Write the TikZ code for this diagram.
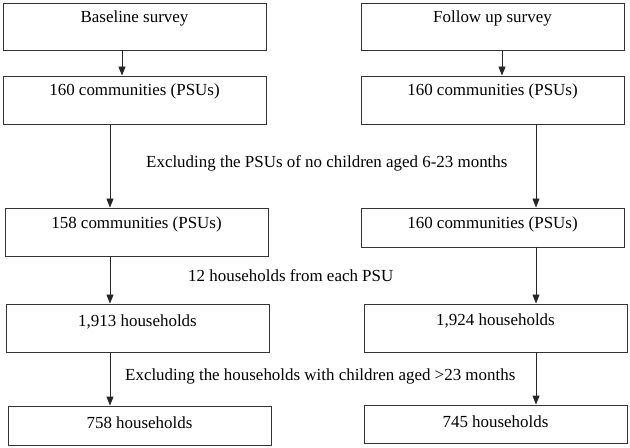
\documentclass[tikz,border=0pt]{standalone}
\usepackage{fontspec}
\setmainfont{Liberation Serif}
\usetikzlibrary{arrows.meta}
\begin{document}
\begin{tikzpicture}[x=1bp,y=-1bp,
  box/.style={draw=black!80,line width=0.9bp,rectangle,inner sep=0pt},
  txt/.style={inner sep=0pt,font=\fontsize{17}{20}\selectfont},
  arr/.style={draw=black!85,line width=0.9bp,-{Triangle[length=9bp,width=7bp]}}]
\useasboundingbox (0,0) rectangle (630,448);
% left column
\node[box,minimum width=263bp,minimum height=47bp] (L1) at (134.5,26.5) {};
\node[box,minimum width=263bp,minimum height=48bp] (L2) at (134.5,100) {};
\node[box,minimum width=263bp,minimum height=48bp] (L3) at (136.5,232) {};
\node[box,minimum width=263bp,minimum height=48bp] (L4) at (137.5,328) {};
\node[box,minimum width=263bp,minimum height=39bp] (L5) at (139.5,425.5) {};
% right column
\node[box,minimum width=263bp,minimum height=47bp] (R1) at (492.5,26.5) {};
\node[box,minimum width=263bp,minimum height=48bp] (R2) at (492.5,100) {};
\node[box,minimum width=263bp,minimum height=39bp] (R3) at (492.5,227.5) {};
\node[box,minimum width=263bp,minimum height=48bp] (R4) at (495.5,328) {};
\node[box,minimum width=263bp,minimum height=38bp] (R5) at (495.5,424) {};
% box texts
\node[txt] (L1t) at ([yshift=-16bp]L1.north) {Baseline survey};
\node[txt] (L2t) at ([yshift=-16bp]L2.north) {160 communities (PSUs)};
\node[txt] (L3t) at ([yshift=-17bp]L3.north) {158 communities (PSUs)};
\node[txt] (L4t) at ([yshift=-18bp]L4.north) {1,913 households};
\node[txt] (L5t) at ([yshift=-17bp]L5.north) {758 households};
\node[txt] (R1t) at ([yshift=-16bp]R1.north) {Follow up survey};
\node[txt] (R2t) at ([yshift=-16bp]R2.north) {160 communities (PSUs)};
\node[txt] (R3t) at ([yshift=-17bp]R3.north) {160 communities (PSUs)};
\node[txt] (R4t) at ([yshift=-17bp]R4.north) {1,924 households};
\node[txt] (R5t) at ([yshift=-17bp]R5.north) {745 households};
% labels
\node[txt,anchor=west] (lab1) at (146,163) {Excluding the PSUs of no children aged 6-23 months};
\node[txt,anchor=west] (lab2) at (188,276) {12 households from each PSU};
\node[txt,anchor=west] (lab3) at (125,376) {Excluding the households with children aged >23 months};
% arrow x positions
\coordinate (xa) at (122,0);
\coordinate (xb) at (110,0);
\coordinate (xc) at (502,0);
\coordinate (xd) at (536,0);
\draw[arr] (L1.south -| xa) -- (L2.north -| xa);
\draw[arr] (L2.south -| xb) -- (L3.north -| xb);
\draw[arr] (L3.south -| xb) -- (L4.north -| xb);
\draw[arr] (L4.south -| xb) -- (L5.north -| xb);
\draw[arr] (R1.south -| xc) -- (R2.north -| xc);
\draw[arr] (R2.south -| xd) -- (R3.north -| xd);
\draw[arr] (R3.south -| xd) -- (R4.north -| xd);
\draw[arr] (R4.south -| xd) -- (R5.north -| xd);
\end{tikzpicture}
\end{document}
